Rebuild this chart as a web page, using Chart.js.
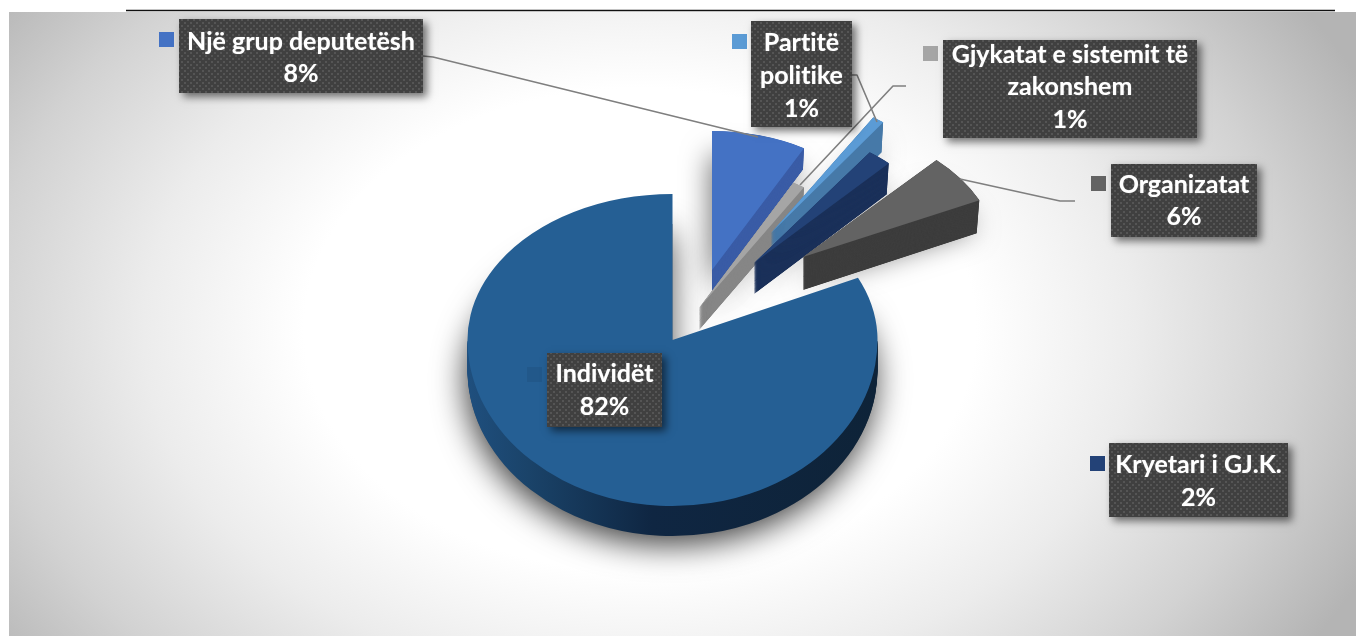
<!DOCTYPE html>
<html><head><meta charset="utf-8">
<style>html,body{margin:0;padding:0;background:#fff;overflow:hidden}#w{width:1356px;height:636px}canvas{display:block}</style>
<script src="https://cdn.jsdelivr.net/npm/chart.js@4"></script>
</head><body><div id="w"><canvas id="c" width="1356" height="636"></canvas></div>
<script>
// Data (clockwise from 12 o'clock)
const categories = ['Një grup deputetësh','Gjykatat e sistemit të zakonshem','Partitë politike','Kryetari i GJ.K.','Organizatat','Individët'];
const values = [8,1,1,2,6,82];
const labelLines = [['Një grup deputetësh'],['Gjykatat e sistemit të','zakonshem'],['Partitë','politike'],['Kryetari i GJ.K.'],['Organizatat'],['Individët']];
const topColors = ['#4472c4','#a5a5a5','#5b9bd5','#234277','#636363','#255f94'];
const wallColors = ['#3a5ca6','#868686','#4679a8','#1b315a','#3e3e3e','#0f2540'];
const swatchColors = ['#4472c4','#a5a5a5','#5b9bd5','#234277','#636363','#22588a'];

// Layout of the 3D look: apex position, radii, depth of each slice
const sliceGeom = [
 {cx:712,cy:270,rx:191,ry:139,d:21,s:.99},
 {cx:699,cy:308,rx:196,ry:143,d:22,s:.99},
 {cx:771,cy:233,rx:191,ry:137,d:30,s:.985},
 {cx:754,cy:263,rx:197,ry:137,d:31,s:.985},
 {cx:803,cy:257,rx:195,ry:133,d:33,s:.985},
 {cx:672.5,cy:340,rx:205,ry:146,ryLow:166,d:30,s:1}
];
const boxes = [
 {x:179,y:19,w:244,h:74,sx:159,sy:32,t:[42,74]},
 {x:943,y:40,w:254,h:98,sx:923,sy:46,t:[55,87,120]},
 {x:751,y:21,w:101,h:106,sx:732,sy:34,t:[43,76,109]},
 {x:1109,y:443,w:179,h:74,sx:1090,sy:456,t:[465,498]},
 {x:1111,y:164,w:146,h:73,sx:1091,sy:176,t:[185,217]},
 {x:547,y:353,w:115,h:74,sx:527,sy:367,t:[374,407]}
];
const leaders = [
 [[423,56],[433,57],[758,137]],
 [[906,86],[893,86],[800,185]],
 [[852,75],[857,75],[877,122]],
 [[1075,201],[1060,201],[960,179]]
];

function drawSlice(ctx, arc, g, color, ox, oy, sc, ry){
  const el = Object.create(arc);
  el.options = Object.assign({}, arc.options, {backgroundColor: color, borderWidth:0});
  const R = arc.outerRadius;
  ctx.save();
  ctx.translate(g.cx+ox, g.cy+oy);
  ctx.scale(g.rx*sc/R, (ry||g.ry)/R);
  ctx.translate(-arc.x,-arc.y);
  el.draw(ctx);
  ctx.restore();
}
function clipRect(ctx,y0,y1){ctx.beginPath();ctx.rect(0,y0,1356,y1-y0);ctx.clip();}

const pie3d = {
  id:'pie3d',
  beforeDraw(chart){
    const ctx = chart.ctx;
    ctx.save();
    ctx.fillStyle='#fff';ctx.fillRect(0,0,1356,636);
    ctx.beginPath();ctx.rect(9,12,1347,624);ctx.clip();
    ctx.translate(640,330);ctx.scale(1,.72);
    const gr = ctx.createRadialGradient(0,0,0,0,0,800);
    gr.addColorStop(0,'#ffffff');gr.addColorStop(.42,'#ffffff');gr.addColorStop(.62,'#ececec');gr.addColorStop(.82,'#d2d2d2');gr.addColorStop(1,'#b4b4b4');
    ctx.fillStyle=gr;ctx.fillRect(-1000,-1000,2000,2000);
    ctx.restore();
    ctx.save();ctx.strokeStyle='#111';ctx.lineWidth=1.6;ctx.beginPath();ctx.moveTo(126,10.5);ctx.lineTo(1335,10.5);ctx.stroke();ctx.restore();
  },
  beforeDatasetsDraw(chart){
    const ctx = chart.ctx;
    const arcs = chart.getDatasetMeta(0).data;
    // soft shadows first
    arcs.forEach((arc,i)=>{
      const g = sliceGeom[i];
      ctx.save();
      ctx.shadowColor=g.ryLow?'rgba(0,0,0,.75)':'rgba(0,0,0,.55)';ctx.shadowBlur=g.ryLow?32:28;ctx.shadowOffsetX=-2;ctx.shadowOffsetY=g.ryLow?9:7;
      if(g.ryLow){
        ctx.save();clipRect(ctx,0,g.cy+g.d);drawSlice(ctx,arc,g,'#777',0,g.d,1,g.ry);ctx.restore();
        ctx.save();clipRect(ctx,g.cy+g.d,636);drawSlice(ctx,arc,g,'#777',0,g.d,1,g.ryLow);ctx.restore();
      } else drawSlice(ctx,arc,g,wallColors[i],0,g.d*.6,g.s,g.ry*.97);
      ctx.restore();
    });
    // slices, back to front
    arcs.forEach((arc,i)=>{
      const g = sliceGeom[i];
      if(g.ryLow){
        const R = arc.outerRadius;
        const wg = ctx.createLinearGradient(arc.x-R,0,arc.x+R,0);
        wg.addColorStop(0,'#1f4f7e');wg.addColorStop(.15,'#1a4369');wg.addColorStop(.45,'#0f2642');wg.addColorStop(1,'#0e2338');
        for(let k=g.d;k>=1;k--){
          ctx.save();clipRect(ctx,g.cy+k,636);drawSlice(ctx,arc,g,wg,0,k,1,g.ryLow);ctx.restore();
        }
        ctx.save();clipRect(ctx,0,g.cy);drawSlice(ctx,arc,g,topColors[i],0,0,1,g.ry);ctx.restore();
        ctx.save();clipRect(ctx,g.cy,636);drawSlice(ctx,arc,g,topColors[i],0,0,1,g.ryLow);ctx.restore();
      } else {
        for(let k=g.d;k>0;k-=.25){
          drawSlice(ctx,arc,g,wallColors[i],0,k,1-(1-g.s)*k/g.d);
        }
        drawSlice(ctx,arc,g,topColors[i],0,0,1);
      }
    });
    return false;
  },
  afterDraw(chart){
    const ctx = chart.ctx;
    ctx.save();
    ctx.strokeStyle='#7f7f7f';ctx.lineWidth=1.6;ctx.lineJoin='round';
    leaders.forEach(p=>{ctx.beginPath();p.forEach((q,i)=>i?ctx.lineTo(q[0],q[1]):ctx.moveTo(q[0],q[1]));ctx.stroke();});
    ctx.restore();
    // dotted label fill
    const t = document.createElement('canvas');t.width=6;t.height=6;
    const c = t.getContext('2d');c.fillStyle='#404040';c.fillRect(0,0,6,6);
    c.fillStyle='#555555';c.fillRect(1,1,2,2);c.fillRect(4,4,2,2);
    const pat = ctx.createPattern(t,'repeat');
    boxes.forEach((b,i)=>{
      ctx.save();
      ctx.fillStyle=swatchColors[i];ctx.fillRect(b.sx,b.sy,15,15);
      ctx.shadowColor='rgba(0,0,0,.55)';ctx.shadowBlur=8;ctx.shadowOffsetX=4;ctx.shadowOffsetY=4;
      ctx.fillStyle='#404040';ctx.fillRect(b.x,b.y,b.w,b.h);
      ctx.restore();
      ctx.save();
      ctx.fillStyle=pat;ctx.fillRect(b.x,b.y,b.w,b.h);
      ctx.fillStyle='#fff';ctx.font='bold 25px Lato, sans-serif';ctx.textAlign='center';ctx.textBaseline='middle';
      ctx.letterSpacing='0.01px';
      ctx.shadowColor='rgba(255,255,255,.5)';ctx.shadowBlur=1;
      const lines = labelLines[i].concat([values[i]+'%']);
      lines.forEach((s,j)=>ctx.fillText(s,b.x+b.w/2,b.t[j]));
      ctx.restore();
    });
  }
};

new Chart(document.getElementById('c'),{
  type:'pie',
  data:{labels:categories,datasets:[{data:values,backgroundColor:topColors,borderWidth:0}]},
  options:{responsive:false,animation:false,layout:{padding:0},
    plugins:{legend:{display:false},tooltip:{enabled:false},title:{display:false}}},
  plugins:[pie3d]
});
</script></body></html>
